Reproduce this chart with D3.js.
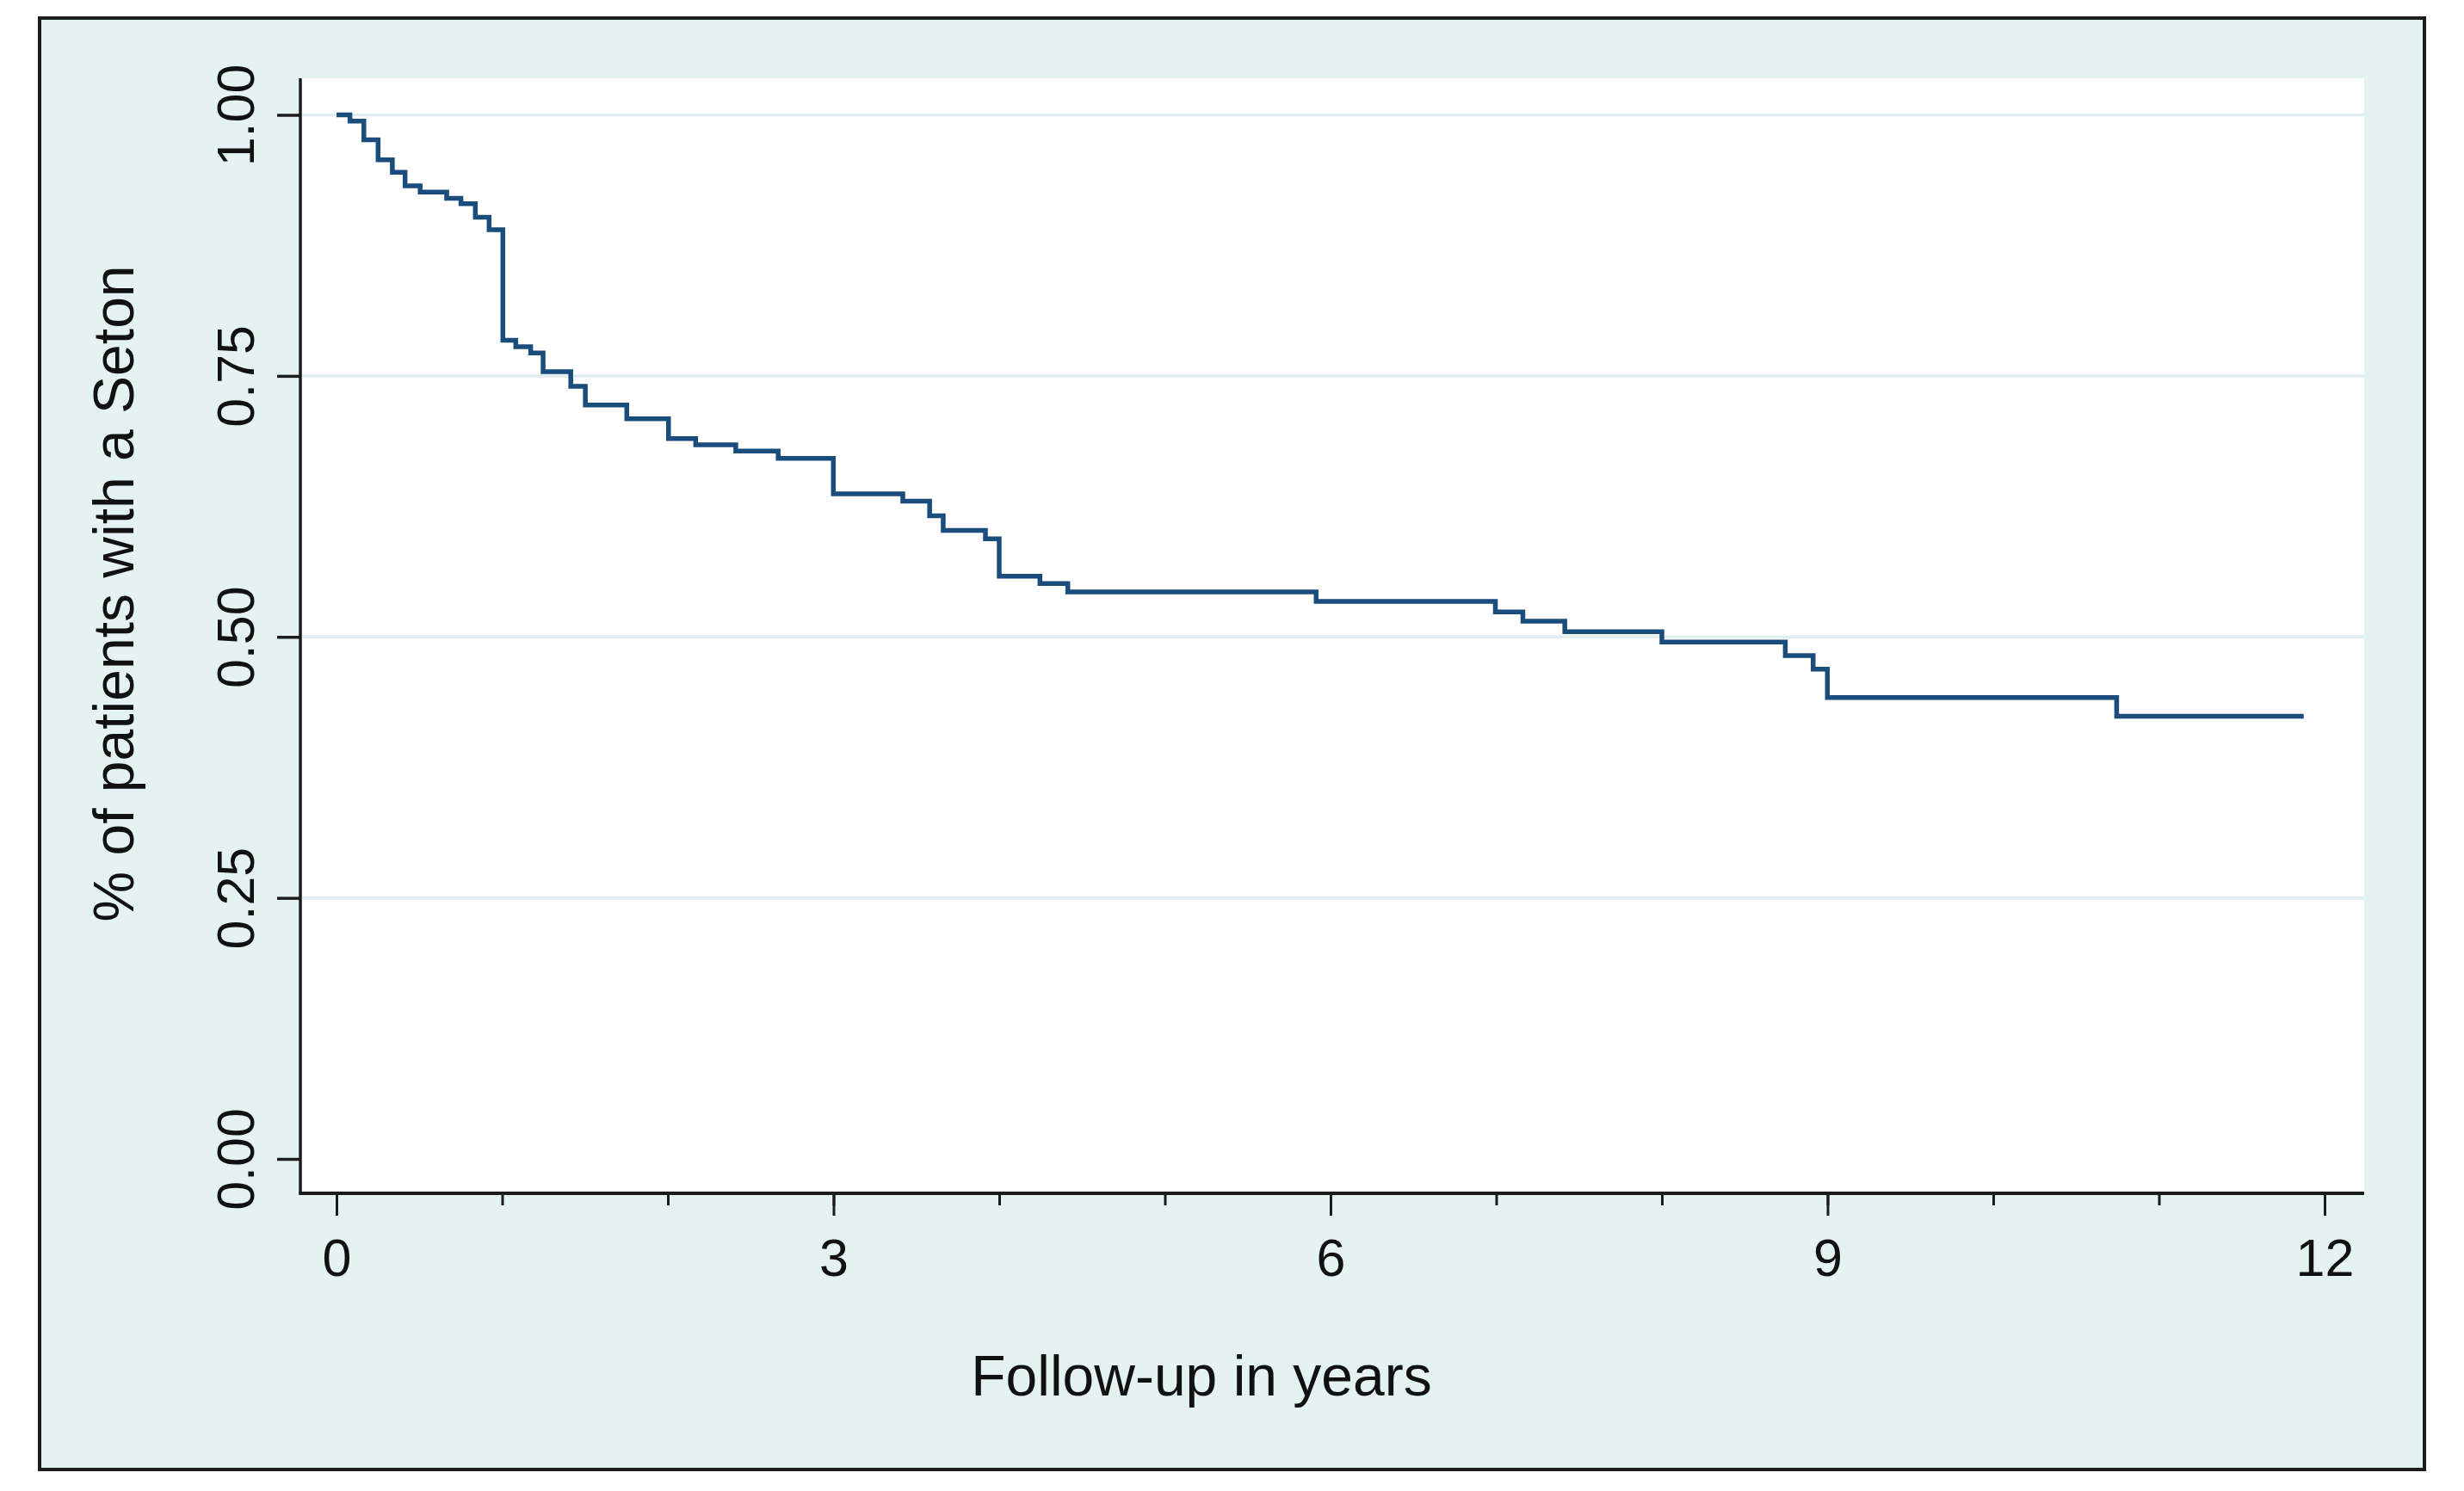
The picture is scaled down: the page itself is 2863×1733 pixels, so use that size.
<!DOCTYPE html>
<html>
<head>
<meta charset="utf-8">
<script src="https://cdn.jsdelivr.net/npm/d3@7"></script>
<style>
  html, body { margin: 0; padding: 0; background: #fff; }
  svg { display: block; }
  text { font-family: 'Liberation Sans', Arial, Helvetica, sans-serif; fill: #111; }
</style>
</head>
<body>
<svg id="chart" width="2863" height="1733"></svg>
<script>
// Kaplan-Meier estimate (years, share still with seton)
const years = [0, 0.081, 0.165, 0.251, 0.337, 0.414, 0.505, 0.665, 0.751, 0.838, 0.921,
  1.004, 1.082, 1.172, 1.247, 1.414, 1.502, 1.752, 2.004, 2.168, 2.41, 2.666, 2.999,
  3.418, 3.58, 3.662, 3.917, 4.0, 4.246, 4.414, 5.913, 6.995, 7.161, 7.414,
  8.0, 8.745, 8.913, 8.999, 10.745, 11.874];
const survival = [1.0, 0.994, 0.976, 0.957, 0.945, 0.932, 0.926, 0.920, 0.915, 0.902, 0.890,
  0.784, 0.778, 0.772, 0.754, 0.740, 0.722, 0.709, 0.690, 0.684, 0.678, 0.671, 0.637,
  0.630, 0.616, 0.602, 0.594, 0.558, 0.551, 0.543, 0.534, 0.524, 0.515, 0.505,
  0.495, 0.482, 0.469, 0.442, 0.424, 0.424];

const yTicks = [0, 0.25, 0.5, 0.75, 1];
const yGrid = [0.25, 0.5, 0.75, 1];
const xMajorTicks = [0, 3, 6, 9, 12];
const xMinorTicks = [0, 1, 2, 3, 4, 5, 6, 7, 8, 9, 10, 11, 12];

const xLabel = 'Follow-up in years';
const yLabel = '% of patients with a Seton';

const svg = d3.select('#chart');

const frame = { left: 46, top: 21, right: 2817, bottom: 1708 };
const plot = { left: 349, top: 91, right: 2747, bottom: 1387 };

const x = d3.scaleLinear().domain([0, 12]).range([391, 2701]);
const y = d3.scaleLinear().domain([0, 1]).range([1347, 133.5]);

// graph region
svg.append('rect')
  .attr('x', frame.left).attr('y', frame.top)
  .attr('width', frame.right - frame.left).attr('height', frame.bottom - frame.top)
  .attr('fill', '#e4f2f2')
  .attr('stroke', '#1c1c1c')
  .attr('stroke-width', 4);

// plot region
svg.append('rect')
  .attr('x', plot.left).attr('y', plot.top)
  .attr('width', plot.right - plot.left).attr('height', plot.bottom - plot.top)
  .attr('fill', '#ffffff');

svg.append('g')
  .selectAll('line')
  .data(yGrid)
  .join('line')
  .attr('x1', plot.left + 2).attr('x2', plot.right)
  .attr('y1', (d) => y(d)).attr('y2', (d) => y(d))
  .attr('stroke', '#dfeeee')
  .attr('stroke-width', 3.5);

// survival curve
const points = years.map((t, i) => ({ t, s: survival[i] }));
const line = d3.line().x((d) => x(d.t)).y((d) => y(d.s)).curve(d3.curveStepAfter);

svg.append('path')
  .datum(points)
  .attr('d', line)
  .attr('fill', 'none')
  .attr('stroke', '#1a4d7b')
  .attr('stroke-width', 5.5)
  .attr('stroke-linejoin', 'miter');

// axes
const yAxis = svg.append('g')
  .attr('transform', `translate(${plot.left},0)`)
  .call(d3.axisLeft(y).tickValues(yTicks).tickFormat(d3.format('.2f')).tickSize(27).tickPadding(0));
yAxis.select('.domain').remove();
yAxis.selectAll('.tick line').attr('stroke', '#1c1c1c').attr('stroke-width', 3.5);
yAxis.selectAll('.tick text')
  .attr('x', null).attr('dy', null)
  .attr('transform', 'translate(-54,0) rotate(-90)')
  .attr('text-anchor', 'middle')
  .attr('font-size', 61)
  .attr('font-family', null)
  .attr('fill', '#111');

const xMinor = svg.append('g')
  .attr('transform', `translate(0,${plot.bottom})`)
  .call(d3.axisBottom(x).tickValues(xMinorTicks).tickSize(14).tickFormat(() => ''));
xMinor.select('.domain').remove();
xMinor.selectAll('.tick line').attr('stroke', '#1c1c1c').attr('stroke-width', 3);

const xAxis = svg.append('g')
  .attr('transform', `translate(0,${plot.bottom})`)
  .call(d3.axisBottom(x).tickValues(xMajorTicks).tickSize(26).tickFormat(d3.format('d')));
xAxis.select('.domain').remove();
xAxis.selectAll('.tick line').attr('stroke', '#1c1c1c').attr('stroke-width', 3);
xAxis.selectAll('.tick text')
  .attr('y', 96).attr('dy', null)
  .attr('font-size', 61)
  .attr('font-family', null)
  .attr('fill', '#111');

// axis lines
svg.append('line')
  .attr('x1', plot.left).attr('x2', plot.left)
  .attr('y1', plot.top).attr('y2', plot.bottom + 2)
  .attr('stroke', '#1c1c1c').attr('stroke-width', 3.5);
svg.append('line')
  .attr('x1', plot.left - 1.5).attr('x2', plot.right)
  .attr('y1', plot.bottom).attr('y2', plot.bottom)
  .attr('stroke', '#1c1c1c').attr('stroke-width', 4);

// titles
svg.append('text')
  .attr('x', 1396).attr('y', 1622)
  .attr('text-anchor', 'middle')
  .attr('font-size', 66)
  .text(xLabel);

svg.append('text')
  .attr('transform', 'translate(155,690) rotate(-90)')
  .attr('text-anchor', 'middle')
  .attr('font-size', 66)
  .text(yLabel);
</script>
</body>
</html>
